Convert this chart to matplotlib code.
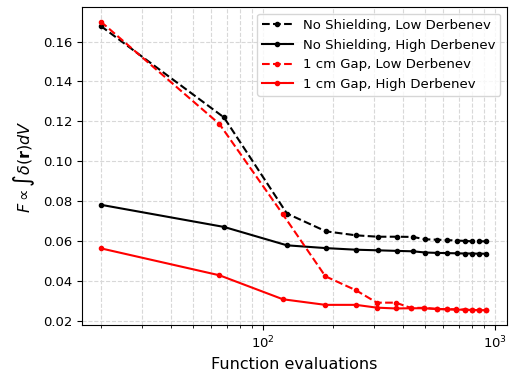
import numpy as np
import matplotlib
matplotlib.use('Agg')
import matplotlib.pyplot as plt

# function evaluations
evals_black = [20, 68, 127, 187, 252, 313, 380, 443, 502, 565, 625, 684, 743, 796, 853, 918]
evals_red = [20, 65, 122, 186, 252, 310, 374, 434, 495, 563, 620, 680, 742, 796, 853, 918]

# objective values
no_shield_low = [0.1678, 0.122, 0.0739, 0.065, 0.063, 0.0623, 0.0623, 0.0622, 0.061, 0.0608,
                 0.0606, 0.0604, 0.0602, 0.0600, 0.0600, 0.0600]
no_shield_high = [0.0783, 0.0672, 0.058, 0.0566, 0.0558, 0.0555, 0.0552, 0.0550, 0.0544, 0.0542,
                  0.0541, 0.0540, 0.0539, 0.0539, 0.0538, 0.0538]
gap_low = [0.170, 0.1187, 0.0735, 0.0425, 0.0355, 0.0293, 0.0293, 0.0267, 0.0267, 0.0262,
           0.0260, 0.0260, 0.0258, 0.0256, 0.0256, 0.0255]
gap_high = [0.0565, 0.043, 0.031, 0.0282, 0.0282, 0.0268, 0.0264, 0.0265, 0.0265, 0.0261,
            0.0260, 0.0258, 0.0258, 0.0256, 0.0256, 0.0255]

labels = ['No Shielding, Low Derbenev', 'No Shielding, High Derbenev',
          '1 cm Gap, Low Derbenev', '1 cm Gap, High Derbenev']

fig = plt.figure(figsize=(5.12, 3.76), dpi=100)
ax = fig.add_axes([0.16, 0.135, 0.83, 0.846])

ax.plot(evals_black, no_shield_low, 'k--', marker='.', ms=6, label=labels[0])
ax.plot(evals_black, no_shield_high, 'k-', marker='.', ms=6, label=labels[1])
ax.plot(evals_red, gap_low, 'r--', marker='.', ms=6, label=labels[2])
ax.plot(evals_red, gap_high, 'r-', marker='.', ms=6, label=labels[3])

ax.set_xscale('log')
ax.set_xlim(16.6, 1127)
ax.set_ylim(0.018, 0.1772)
ax.grid(True, which='both', ls='--', color='#d8d8d8', lw=0.8)
ax.grid(False, which='minor', axis='y')

ax.tick_params(labelsize=9.5)
ax.set_xlabel('Function evaluations', fontsize=11.5)
ax.set_ylabel(r'$F \propto \int \delta(\mathbf{r}) dV$', fontsize=11.5)
ax.legend(loc='upper right', fontsize=9.5, handlelength=2.3, handletextpad=0.75)

fig.savefig('out.png', dpi=100)
